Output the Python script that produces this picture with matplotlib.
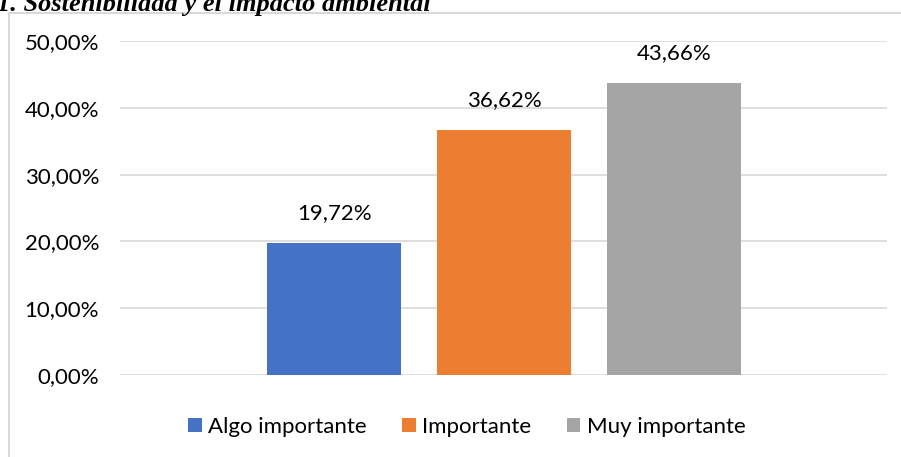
import numpy as np
import matplotlib.pyplot as plt
from matplotlib.lines import Line2D

# data
categories = ['Algo importante', 'Importante', 'Muy importante']
values = [19.72, 36.62, 43.66]
colors = ['#4472C4', '#ED7D31', '#A5A5A5']
yticks = [0, 10, 20, 30, 40, 50]

plt.rcParams['font.family'] = ['Lato', 'DejaVu Sans']
fs = 16

fig = plt.figure(figsize=(9.01, 4.57), dpi=100)
W, H = 901, 457
# axes placed in pixel terms
left, right, bottom, top = 120, 887, 375, 41
ax = fig.add_axes([left / W, 1 - bottom / H, (right - left) / W, (bottom - top) / H])

x = np.arange(len(categories))
bars = ax.bar(x, values, width=0.788, color=colors, zorder=3, label=categories)

for xi, v in zip(x, values):
    ax.text(xi, v + 3.0, f'{v:.2f}%'.replace('.', ','), ha='center', va='bottom',
            fontsize=fs, color='#000000')

ax.set_ylim(0, 50)
ax.set_xlim(-1.26, 3.25)
ax.set_yticks(yticks)
ax.set_yticklabels([f'{t:.2f}%'.replace('.', ',') for t in yticks], fontsize=fs)
ax.set_xticks([])
ax.grid(axis='y', color='#d9d9d9', linewidth=1.2, zorder=0)
for s in ax.spines.values():
    s.set_visible(False)
ax.tick_params(axis='y', length=0, pad=15)

leg = fig.legend(handles=bars, labels=categories, loc='center', bbox_to_anchor=(467 / W, 1 - 427 / H),
                 ncol=3, frameon=False, fontsize=fs, handlelength=0.6, handleheight=0.6,
                 handletextpad=0.3, columnspacing=1.6)

# chart frame (left and top edges visible)
fig.add_artist(Line2D([9 / W, 9 / W], [0, 1 - 13 / H], color='#d9d9d9', linewidth=1.5,
                      transform=fig.transFigure))
fig.add_artist(Line2D([9 / W, 1], [1 - 13 / H, 1 - 13 / H], color='#d9d9d9', linewidth=1.5,
                      transform=fig.transFigure))

# clipped title
fig.text(-3 / W, 1 - 11 / H, '1. Sostenibilidad y el impacto ambiental', fontsize=19,
         fontweight='bold', fontstyle='italic', family=['Liberation Serif'],
         ha='left', va='baseline')

fig.savefig('out.png', dpi=100)
